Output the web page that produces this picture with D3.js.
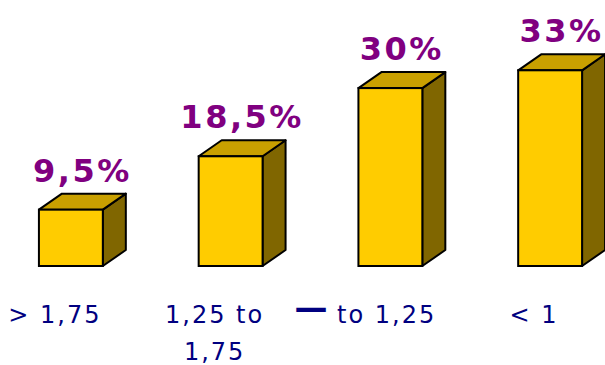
<!DOCTYPE html>
<html>
<head>
<meta charset="utf-8">
<script src="https://cdn.jsdelivr.net/npm/d3@7/dist/d3.min.js"></script>
<style>
  html, body { margin: 0; padding: 0; background: #fff; }
  svg { display: block; }
</style>
</head>
<body>
<svg id="chart" width="605" height="365"></svg>
<script>
// Share of cases per ratio class
const categories = ["> 1,75", "1,25 to 1,75", "— to 1,25", "< 1"];
const categoryLines = [["> 1,75"], ["1,25 to", "1,75"], ["— to 1,25"], ["< 1"]];
const values = [9.5, 18.5, 30, 33];

const W = 605, H = 365;
const baseY = 266;
const depthX = 23, depthY = 16;

const colors = { front: "#FFCC00", top: "#C9A000", side: "#806600", edge: "#000000" };

const svg = d3.select("#chart");

const x = d3.scaleBand()
  .domain(categories)
  .range([-9, 630])
  .paddingInner(0.6)
  .paddingOuter(0.3);

const y = d3.scaleLinear()
  .domain([0, 40])
  .range([baseY, baseY - 237.2]);

const bars = svg.append("g")
  .selectAll("g.bar")
  .data(values.map((v, i) => ({ v, c: categories[i] })))
  .join("g")
  .attr("class", "bar");

// side face
bars.append("path")
  .attr("d", d => {
    const x1 = x(d.c) + x.bandwidth(), yt = y(d.v), yb = y(0);
    return `M${x1},${yt} L${x1 + depthX},${yt - depthY} L${x1 + depthX},${yb - depthY} L${x1},${yb} Z`;
  })
  .attr("fill", colors.side)
  .attr("stroke", colors.edge)
  .attr("stroke-width", 2)
  .attr("stroke-linejoin", "round");

// top face
bars.append("path")
  .attr("d", d => {
    const x0 = x(d.c), x1 = x0 + x.bandwidth(), yt = y(d.v);
    return `M${x0},${yt} L${x0 + depthX},${yt - depthY} L${x1 + depthX},${yt - depthY} L${x1},${yt} Z`;
  })
  .attr("fill", colors.top)
  .attr("stroke", colors.edge)
  .attr("stroke-width", 2)
  .attr("stroke-linejoin", "round");

// front face
bars.append("rect")
  .attr("x", d => x(d.c))
  .attr("y", d => y(d.v))
  .attr("width", x.bandwidth())
  .attr("height", d => y(0) - y(d.v))
  .attr("fill", colors.front)
  .attr("stroke", colors.edge)
  .attr("stroke-width", 2);

// value labels
const fmt = v => String(v).replace(".", ",") + "%";
bars.append("text")
  .attr("x", d => x(d.c) + x.bandwidth() / 2 + depthX / 2)
  .attr("y", d => y(d.v) - 28)
  .attr("text-anchor", "middle")
  .attr("font-family", "DejaVu Sans, Verdana, sans-serif")
  .attr("font-weight", "bold")
  .attr("font-size", 32)
  .attr("letter-spacing", 2.5)
  .attr("fill", "#800080")
  .text(d => fmt(d.v));

// category labels
const labels = svg.append("g")
  .selectAll("text")
  .data(categories.map((c, i) => ({ c, lines: categoryLines[i] })))
  .join("text")
  .attr("x", d => x(d.c) + x.bandwidth() / 2 - 16)
  .attr("y", 323)
  .attr("text-anchor", "middle")
  .attr("font-family", "DejaVu Sans, Verdana, sans-serif")
  .attr("font-size", 24)
  .attr("letter-spacing", 2)
  .attr("fill", "#000080");

labels.each(function (d) {
  const t = d3.select(this);
  const cx = x(d.c) + x.bandwidth() / 2 - 16;
  d.lines.forEach((line, i) => {
    const span = t.append("tspan").attr("x", cx).attr("dy", i === 0 ? 0 : 37);
    if (line.startsWith("—")) {
      // the leading dash is drawn heavier and wider than the rest of the line
      span.append("tspan")
        .attr("font-weight", "bold")
        .attr("font-size", 33)
        .attr("letter-spacing", 0)
        .attr("dx", -9)
        .attr("dy", -4)
        .text("—");
      span.append("tspan").attr("dy", 4).text(line.slice(1));
    } else {
      span.text(line);
    }
  });
});
</script>
</body>
</html>
